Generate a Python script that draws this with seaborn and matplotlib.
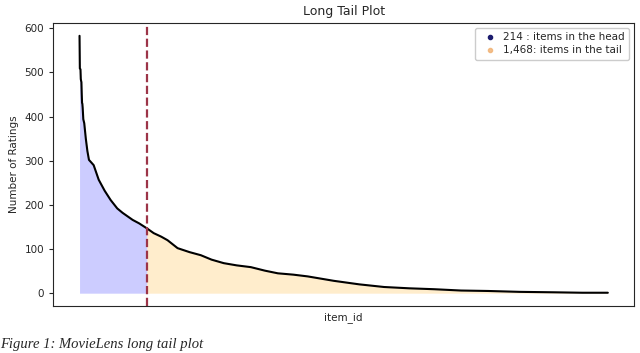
import matplotlib.pyplot as plt
import pandas as pd
import seaborn as sns
from matplotlib.lines import Line2D

# Item rank (0 = most rated item) and its number of ratings
item_rank = [0, 1, 2, 3, 4, 5, 6, 7, 8, 9, 10, 12, 15, 20, 25, 30, 35, 45, 61, 80,
             99, 120, 137, 169, 190, 214, 236, 260, 280, 312, 350, 386, 420, 459, 500,
             545, 590, 631, 680, 726, 809, 890, 969, 1050, 1128, 1214, 1300, 1400, 1510,
             1600, 1681]
n_ratings = [583, 509, 508, 507, 485, 481, 478, 452, 431, 429, 420, 394, 385, 350, 322,
             302, 298, 290, 257, 232, 211, 192, 182, 166, 158, 147, 136, 128, 120, 102,
             93, 86, 76, 68, 63, 59, 51, 45, 42, 38, 28, 20, 14, 11, 9, 6, 5, 3, 2, 1, 1]
head_items = 214
tail_items = 1468

df = pd.DataFrame({'item_id': item_rank, 'ratings': n_ratings})
head = df[df['item_id'] <= head_items]
tail = df[df['item_id'] >= head_items]

sns.set_style('ticks')
plt.rcParams['font.family'] = ['DejaVu Sans']

fig, ax = plt.subplots(figsize=(6.4, 3.53), dpi=100)
fig.subplots_adjust(left=0.083, right=0.991, top=0.935, bottom=0.133)

# Head / tail areas
ax.fill_between(head['item_id'], head['ratings'], color='blue', alpha=0.2, linewidth=0)
ax.fill_between(tail['item_id'], tail['ratings'], color='orange', alpha=0.2, linewidth=0)
sns.lineplot(data=df, x='item_id', y='ratings', color='black', linewidth=1.5, ax=ax)
ax.axvline(head_items, color='#9c3448', linestyle='--', linewidth=1.6)

ax.set_xticks([])
ax.tick_params(axis='y', labelsize=7.5, length=3)
ax.set_title('Long Tail Plot', fontsize=9)
ax.set_xlabel('item_id', fontsize=7.5, labelpad=4)
ax.set_ylabel('Number of Ratings', fontsize=7.5)

handles = [
    Line2D([], [], marker='o', linestyle='', markersize=3, color='#1c1c6e'),
    Line2D([], [], marker='o', linestyle='', markersize=3, color='#f0b070', alpha=0.8),
]
labels = [f'{head_items} : items in the head', f'{tail_items:,}: items in the tail']
ax.legend(handles, labels, loc='upper right', fontsize=7.5, handletextpad=0.3,
          borderpad=0.4, labelspacing=0.3, framealpha=1)

# caption of the source figure, below the plot
fig.text(0.0, 0.006, 'Figure 1: MovieLens long tail plot', fontsize=10.5,
         family='Liberation Serif', style='italic', va='bottom', ha='left')

fig.savefig('out.png', dpi=100)
